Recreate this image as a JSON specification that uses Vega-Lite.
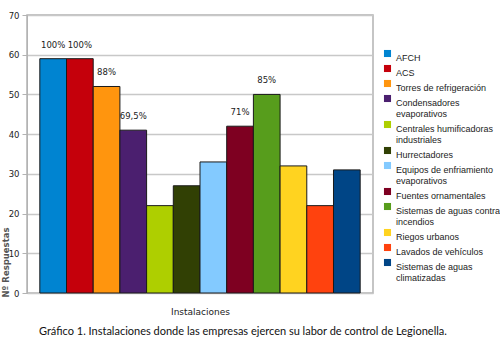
{
  "$schema": "https://vega.github.io/schema/vega-lite/v6.json",
  "width": 346,
  "height": 278,
  "autosize": "none",
  "padding": {"left": 27, "top": 15, "right": 127, "bottom": 57},
  "background": "white",
  "title": {
    "text": "Gráfico 1. Instalaciones donde las empresas ejercen su labor de control de Legionella.",
    "orient": "bottom",
    "anchor": "start",
    "frame": "group",
    "offset": 10,
    "dx": 12,
    "font": "Lato",
    "fontSize": 11,
    "fontWeight": "normal",
    "color": "#111111"
  },
  "data": {
    "values": [
      {"item": "AFCH", "n": 59, "pct": "100%"},
      {"item": "ACS", "n": 59, "pct": "100%"},
      {"item": "Torres de refrigeración", "n": 52, "pct": "88%"},
      {"item": "Condensadores evaporativos", "n": 41, "pct": "69,5%"},
      {"item": "Centrales humificadoras industriales", "n": 22, "pct": ""},
      {"item": "Hurrectadores", "n": 27, "pct": ""},
      {"item": "Equipos de enfriamiento evaporativos", "n": 33, "pct": ""},
      {"item": "Fuentes ornamentales", "n": 42, "pct": "71%"},
      {"item": "Sistemas de aguas contra incendios", "n": 50, "pct": "85%"},
      {"item": "Riegos urbanos", "n": 32, "pct": ""},
      {"item": "Lavados de vehículos", "n": 22, "pct": ""},
      {"item": "Sistemas de aguas climatizadas", "n": 31, "pct": ""}
    ]
  },
  "encoding": {
    "x": {
      "field": "item",
      "type": "nominal",
      "sort": null,
      "scale": {"paddingInner": 0, "paddingOuter": 0.48},
      "axis": {
        "title": "Instalaciones",
        "labels": false,
        "ticks": false,
        "domain": false,
        "titleFont": "DejaVu Sans",
        "titleFontSize": 9,
        "titleFontWeight": "normal",
        "titleColor": "#222222",
        "titlePadding": 14
      }
    },
    "y": {
      "field": "n",
      "type": "quantitative",
      "scale": {"domain": [0, 70]},
      "axis": {
        "title": "Nº Respuestas",
        "values": [0, 10, 20, 30, 40, 50, 60, 70],
        "titleFont": "DejaVu Sans",
        "titleFontSize": 8.5,
        "titleFontWeight": "bold",
        "titleColor": "#555555",
        "titleAngle": -90,
        "titleAlign": "center",
        "titleBaseline": "middle",
        "titleX": -22,
        "titleY": 247,
        "labelFont": "DejaVu Sans",
        "labelFontSize": 8.5,
        "labelColor": "#222222",
        "labelPadding": 3,
        "tickColor": "#b3b3b3",
        "tickSize": 5,
        "domainColor": "#b3b3b3",
        "gridColor": "#c8c8c8",
        "gridWidth": 1.5
      }
    }
  },
  "layer": [
    {
      "mark": {"type": "bar", "stroke": "#1a1a1a", "strokeWidth": 1},
      "encoding": {
        "color": {
          "field": "item",
          "type": "nominal",
          "sort": null,
          "scale": {
            "range": ["#0084d1", "#c5000b", "#ff950e", "#4b1f6f", "#aecf00", "#314004", "#83caff", "#7e0021", "#579d1c", "#ffd320", "#ff420e", "#004586"]
          },
          "legend": {
            "title": null,
            "orient": "none",
            "legendX": 356,
            "legendY": 34,
            "symbolType": "square",
            "symbolSize": 50,
            "symbolStrokeColor": "#1a1a1a",
            "symbolStrokeWidth": 0.8,
            "symbolOpacity": 1,
            "labelFont": "Liberation Sans",
            "labelFontSize": 9,
            "labelColor": "#222222",
            "labelOffset": 4,
            "labelLimit": 200,
            "rowPadding": 0,
            "labelExpr": "datum.label == 'Condensadores evaporativos' ? ['Condensadores', 'evaporativos'] : datum.label == 'Centrales humificadoras industriales' ? ['Centrales humificadoras', 'industriales'] : datum.label == 'Equipos de enfriamiento evaporativos' ? ['Equipos de enfriamiento', 'evaporativos'] : datum.label == 'Sistemas de aguas contra incendios' ? ['Sistemas de aguas contra', 'incendios'] : datum.label == 'Sistemas de aguas climatizadas' ? ['Sistemas de aguas', 'climatizadas'] : datum.label",
            "labelBaseline": "top",
            "encode": {
              "symbols": {
                "update": {
                  "fill": {"signal": "datum.label == 'Sistemas de aguas climatizadas' ? '#ff420e' : scale('color', datum.value)"}
                }
              }
            }
          }
        }
      }
    },
    {
      "mark": {
        "type": "text",
        "baseline": "bottom",
        "dy": -9,
        "font": "DejaVu Sans",
        "fontSize": 8.5,
        "fontWeight": "normal",
        "color": "#222222"
      },
      "encoding": {"text": {"field": "pct"}}
    }
  ],
  "config": {
    "view": {"stroke": "#b3b3b3", "strokeWidth": 1.5}
  }
}
